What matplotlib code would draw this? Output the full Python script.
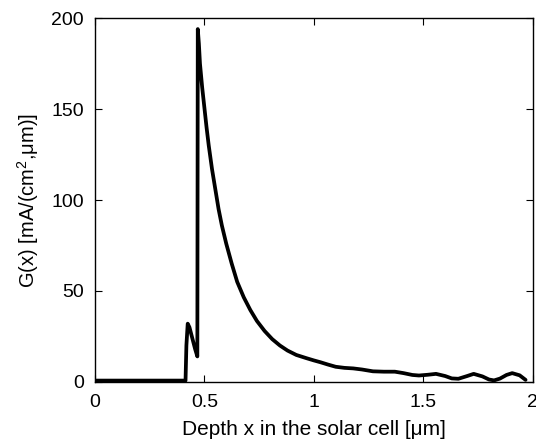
import numpy as np
import matplotlib
matplotlib.use("Agg")
import matplotlib.pyplot as plt

plt.rcParams['font.family'] = ['Liberation Sans', 'DejaVu Sans']
plt.rcParams['mathtext.fontset'] = 'custom'
plt.rcParams['mathtext.rm'] = 'Liberation Sans'
plt.rcParams['mathtext.it'] = 'Liberation Sans'

# Generation profile
depth = [0.0, 0.2, 0.414, 0.418, 0.424, 0.432, 0.445, 0.458, 0.468, 0.470,
         0.475, 0.48, 0.49, 0.50, 0.51, 0.52, 0.535, 0.55, 0.565, 0.58,
         0.60, 0.625, 0.65, 0.68, 0.71, 0.74, 0.775, 0.81, 0.845, 0.88,
         0.92, 0.967, 1.0, 1.03, 1.065, 1.10, 1.14, 1.18, 1.22, 1.27,
         1.32, 1.37, 1.41, 1.45, 1.48, 1.52, 1.558, 1.60, 1.63, 1.66,
         1.70, 1.73, 1.77, 1.80, 1.823, 1.85, 1.88, 1.906, 1.94, 1.967]
gen = [0.7, 0.7, 0.7, 20, 32, 30, 24, 18, 14, 194,
       186, 175, 162, 151, 140, 130, 117, 106, 95, 86,
       76, 65, 55, 46.5, 39.5, 33.5, 28, 23.5, 20, 17.2,
       14.8, 13, 11.8, 10.8, 9.5, 8.3, 7.7, 7.4, 6.8, 5.8,
       5.6, 5.6, 4.8, 3.8, 3.5, 3.9, 4.4, 3.2, 1.9, 1.7,
       3.2, 4.4, 3.0, 1.3, 0.8, 1.8, 3.8, 4.8, 3.6, 1.1]

fig = plt.figure(figsize=(5.36, 4.43), dpi=100)
ax = fig.add_axes([0.177, 0.138, 0.817, 0.821])
ax.plot(depth, gen, color='black', linewidth=2.7,
        solid_joinstyle='round', solid_capstyle='round')

ax.set_xlim(0, 2)
ax.set_ylim(0, 200)
ax.set_xticks([0, 0.5, 1, 1.5, 2])
ax.set_xticklabels(['0', '0.5', '1', '1.5', '2'])
ax.set_yticks([0, 50, 100, 150, 200])
ax.tick_params(direction='in', length=5, width=0.8, top=True, right=True,
               labelsize=14)
ax.tick_params(axis='x', pad=9)
ax.tick_params(axis='y', pad=8)
for s in ax.spines.values():
    s.set_linewidth(1.0)

ax.set_xlabel('Depth x in the solar cell [μm]', fontsize=15, labelpad=6)
ax.set_ylabel('G(x) [mA/(cm$^2$,μm)]', fontsize=14.5, labelpad=7)

fig.savefig('out.png', dpi=100)
